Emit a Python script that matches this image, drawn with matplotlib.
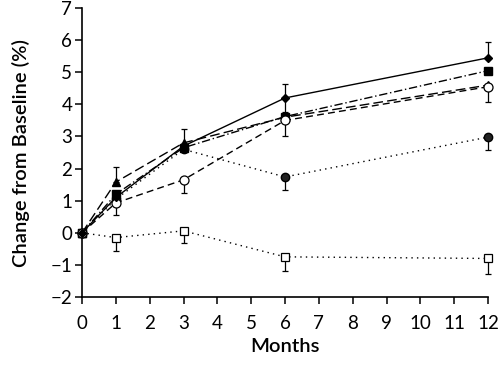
import matplotlib
matplotlib.use("Agg")
import matplotlib.pyplot as plt

months = [0, 1, 3, 6, 12]

# series values (% change from baseline)
solid_diamond = [0, 1.1, 2.7, 4.2, 5.45]
dashdot_square = [0, 1.2, 2.65, 3.62, 5.05]
dashed_triangle = [0, 1.58, 2.8, 3.6, 4.6]
dashed_open_circle = [0, 0.93, 1.65, 3.5, 4.55]
dotted_circle = [0, 1.05, 2.6, 1.74, 2.98]
dotted_open_square = [0, -0.15, 0.06, -0.75, -0.8]

# one-sided error bars (lower, upper)
solid_err = [[0, 0, 0, 0.45, 0], [0, 0, 0, 0.45, 0.5]]
square_err = [[0, 0, 0, 0, 0], [0, 0, 0, 0, 0]]
triangle_err = [[0, 0, 0, 0, 0], [0, 0.48, 0.42, 0, 0]]
open_circle_err = [[0, 0.37, 0.4, 0.47, 0.47], [0, 0, 0, 0, 0]]
circle_err = [[0, 0, 0, 0.4, 0.4], [0, 0, 0, 0, 0]]
open_square_err = [[0, 0.41, 0.37, 0.43, 0.47], [0, 0, 0, 0, 0]]

xticks = list(range(0, 13))
yticks = list(range(-2, 8))

plt.rcParams['font.family'] = ['Lato', 'DejaVu Sans']

fig = plt.figure(figsize=(5, 3.68), dpi=100)
ax = fig.add_axes([0.164, 0.193, 0.812, 0.785])

common = dict(color="black", ecolor="black", elinewidth=0.9, capsize=2.5,
              capthick=0.9, linewidth=1.0, clip_on=False)

ax.errorbar(months, dotted_open_square, yerr=open_square_err, linestyle=(0, (1, 3)),
            marker="s", markersize=6, markerfacecolor="white", markeredgewidth=0.9, zorder=3, **common)
ax.errorbar(months, dotted_circle, yerr=circle_err, linestyle=(0, (1, 3)),
            marker="o", markersize=6, markerfacecolor="#222222", zorder=3, **common)
ax.errorbar(months, dashed_triangle, yerr=triangle_err, linestyle=(0, (7, 3)),
            marker="^", markersize=6, markerfacecolor="black", zorder=3, **common)
ax.errorbar(months, dashed_open_circle, yerr=open_circle_err, linestyle=(0, (5, 3)),
            marker="o", markersize=6.5, markerfacecolor="white", markeredgewidth=0.9, zorder=4, **common)
ax.errorbar(months, dashdot_square, yerr=square_err, linestyle=(0, (6, 2, 1, 2)),
            marker="s", markersize=5.5, markerfacecolor="black", zorder=3, **common)
ax.errorbar(months, solid_diamond, yerr=solid_err, linestyle="-",
            marker="D", markersize=4, markerfacecolor="black", zorder=5, **common)

ax.set_xlim(0, 12)
ax.set_ylim(-2, 7)
ax.set_xticks(xticks)
ax.set_yticks(yticks)
ax.set_yticklabels([str(v).replace("-", "\u2212") for v in yticks])
ax.spines["top"].set_visible(False)
ax.spines["right"].set_visible(False)
ax.spines["left"].set_linewidth(1.2)
ax.spines["bottom"].set_linewidth(1.2)
ax.tick_params(direction="out", length=5, width=1.1, labelsize=13.5)
ax.tick_params(axis="x", pad=8)
ax.tick_params(axis="y", pad=2)

ax.set_xlabel("Months", fontsize=14.5, fontweight="semibold", labelpad=4)
ax.set_ylabel("Change from Baseline (%)", fontsize=14.5, fontweight="semibold", labelpad=15)

fig.savefig("out.png", dpi=100)
